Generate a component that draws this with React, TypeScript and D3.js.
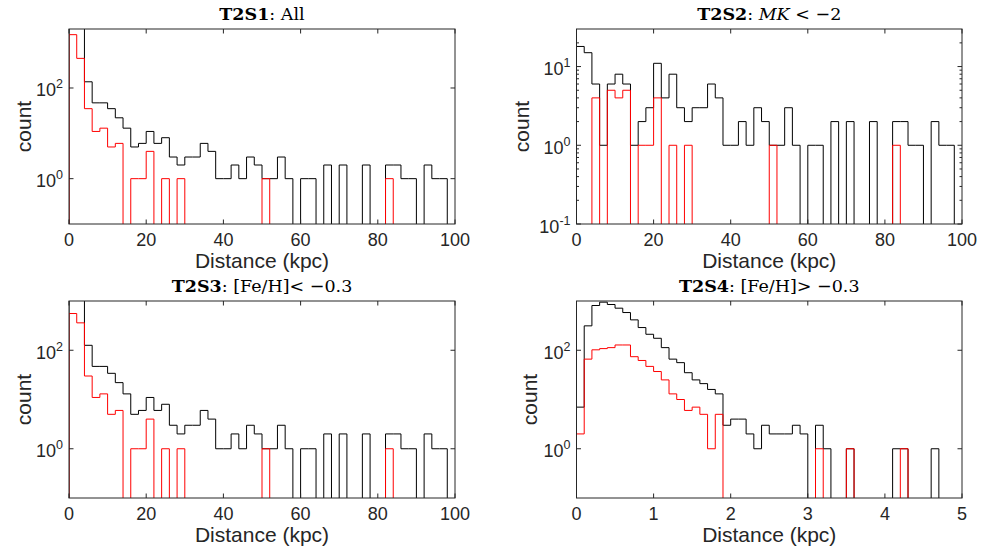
import React from "react";
import * as d3 from "d3";

// ---------- data ----------
// bin edges (kpc)
const edgesWide = d3.range(0, 101, 2); // 0..100 step 2 -> 50 bins
const edgesNarrow = d3.range(0, 51, 1).map((i) => i / 10); // 0..5 step 0.1 -> 50 bins

const xTicksWide = [0, 20, 40, 60, 80, 100];
const xTicksNarrow = [0, 1, 2, 3, 4, 5];

// T2S1: All
const t2s1Black = [3000, 2500, 137, 47, 47, 35, 22, 13, 5, 6, 11, 6, 8, 3, 2, 3, 3, 6, 4, 1, 1, 2, 1, 3, 2, 1, 1, 3, 1, 0, 1, 1, 0, 2, 0, 2, 0, 0, 2, 0, 0, 2, 2, 1, 1, 0, 2, 1, 1, 0];
const t2s1Red = [1500, 450, 35, 11, 13, 5, 6, 0, 1, 1, 4, 0, 1, 0, 1, 0, 0, 0, 0, 0, 0, 0, 0, 0, 0, 1, 0, 0, 0, 0, 0, 0, 0, 0, 0, 0, 0, 0, 0, 0, 0, 1, 0, 0, 0, 0, 0, 0, 0, 0];

// T2S2: MK < -2
const t2s2Black = [18, 15, 6, 1, 6, 8, 6, 1, 2, 3, 11, 4, 8, 3, 2, 3, 3, 6, 4, 1, 1, 2, 1, 3, 2, 1, 1, 3, 1, 0, 1, 1, 0, 2, 0, 2, 0, 0, 2, 0, 0, 2, 2, 1, 1, 0, 2, 1, 1, 0];
const t2s2Red = [0, 0, 4, 0, 5, 4, 5, 0, 1, 1, 4, 0, 1, 0, 1, 0, 0, 0, 0, 0, 0, 0, 0, 0, 0, 1, 0, 0, 0, 0, 0, 0, 0, 0, 0, 0, 0, 0, 0, 0, 0, 1, 0, 0, 0, 0, 0, 0, 0, 0];

// T2S3: [Fe/H] < -0.3
const t2s3Black = [3000, 2500, 126, 47, 47, 34, 22, 13, 5, 6, 11, 6, 8, 3, 2, 3, 3, 6, 4, 1, 1, 2, 1, 3, 2, 1, 1, 3, 1, 0, 1, 1, 0, 2, 0, 2, 0, 0, 2, 0, 0, 2, 2, 1, 1, 0, 2, 1, 1, 0];
const t2s3Red = [557, 360, 30, 11, 13, 5, 6, 0, 1, 1, 4, 0, 1, 0, 1, 0, 0, 0, 0, 0, 0, 0, 0, 0, 0, 1, 0, 0, 0, 0, 0, 0, 0, 0, 0, 0, 0, 0, 0, 0, 0, 1, 0, 0, 0, 0, 0, 0, 0, 0];

// T2S4: [Fe/H] > -0.3
const t2s4Black = [7, 313, 810, 947, 849, 715, 583, 414, 289, 211, 175, 113, 66, 56, 35, 25, 21, 16, 13, 3, 4, 4, 2, 1, 3, 2, 2, 2, 3, 2, 0, 3, 1, 0, 0, 1, 0, 0, 0, 0, 0, 1, 1, 0, 0, 0, 1, 0, 0, 0];
const t2s4Red = [2, 66, 102, 108, 113, 128, 128, 74, 62, 47, 37, 25, 13, 10, 6, 7, 5, 1, 5, 0, 0, 0, 0, 0, 0, 0, 0, 0, 0, 0, 0, 1, 0, 0, 0, 1, 0, 0, 0, 0, 0, 0, 1, 0, 0, 0, 0, 0, 0, 0];

// ---------- styles ----------
const AXIS = "#262626";
const SANS = "'Liberation Sans', Arial, Helvetica, sans-serif";
const SERIF = "'DejaVu Serif', serif";

type Part = { t: string; b?: boolean; i?: boolean };

type PanelProps = {
  id: string;
  x0: number;
  y0: number;
  w: number;
  h: number;
  xDomain: [number, number];
  xTicks: number[];
  yDomain: [number, number];
  yExps: number[];
  minor?: boolean;
  edges: number[];
  black: number[];
  red: number[];
  title: Part[];
  labelOffset: number;
};

function Panel(p: PanelProps) {
  const xs = d3.scaleLinear().domain(p.xDomain).range([0, p.w]);
  const ys = d3.scaleLog().domain(p.yDomain).range([p.h, 0]);
  const line = d3.line<[number, number]>();

  const stairs = (vals: number[]) => {
    const yv = (v: number) => (v > 0 ? ys(v) : p.h + 3);
    const pts: [number, number][] = [[xs(p.edges[0]), p.h + 3]];
    vals.forEach((v, i) => {
      pts.push([xs(p.edges[i]), yv(v)]);
      pts.push([xs(p.edges[i + 1]), yv(v)]);
    });
    pts.push([xs(p.edges[vals.length]), p.h + 3]);
    return line(pts) || "";
  };

  const majorT = 4.5;
  const minorT = 2.5;
  const minorVals: number[] = [];
  if (p.minor) {
    const [lo, hi] = p.yDomain;
    for (let e = Math.floor(Math.log10(lo)); e <= Math.ceil(Math.log10(hi)); e++) {
      for (let m = 2; m <= 9; m++) {
        const v = m * Math.pow(10, e);
        if (v > lo && v < hi) minorVals.push(v);
      }
    }
  }

  return (
    <g transform={`translate(${p.x0},${p.y0})`}>
      <defs>
        <clipPath id={`clip-${p.id}`}>
          <rect x={0} y={0} width={p.w} height={p.h} />
        </clipPath>
      </defs>
      <g clipPath={`url(#clip-${p.id})`}>
        <path d={stairs(p.black)} fill="none" stroke="#000" strokeWidth={1} />
        <path d={stairs(p.red)} fill="none" stroke="#ff0000" strokeWidth={1} />
      </g>
      <rect x={0} y={0} width={p.w} height={p.h} fill="none" stroke={AXIS} strokeWidth={1} />
      {p.xTicks.map((t) => (
        <g key={`x${t}`}>
          <line x1={xs(t)} x2={xs(t)} y1={p.h} y2={p.h - majorT} stroke={AXIS} />
          <line x1={xs(t)} x2={xs(t)} y1={0} y2={majorT} stroke={AXIS} />
          <text x={xs(t)} y={p.h + 22} textAnchor="middle" fontFamily={SANS} fontSize={18} fill={AXIS}>
            {t}
          </text>
        </g>
      ))}
      {p.yExps.map((e) => {
        const y = ys(Math.pow(10, e));
        return (
          <g key={`y${e}`}>
            <line x1={0} x2={majorT} y1={y} y2={y} stroke={AXIS} />
            <line x1={p.w} x2={p.w - majorT} y1={y} y2={y} stroke={AXIS} />
            <text x={-6} y={y + 8.5} textAnchor="end" fontFamily={SANS} fontSize={18} fill={AXIS}>
              10
              <tspan dy={-8} fontSize={12.5}>
                {e < 0 ? `-${-e}` : `${e}`}
              </tspan>
            </text>
          </g>
        );
      })}
      {minorVals.map((v) => (
        <g key={`m${v}`}>
          <line x1={0} x2={minorT} y1={ys(v)} y2={ys(v)} stroke={AXIS} />
          <line x1={p.w} x2={p.w - minorT} y1={ys(v)} y2={ys(v)} stroke={AXIS} />
        </g>
      ))}
      <text
        transform={`translate(${-p.labelOffset},${p.h / 2}) rotate(-90)`}
        textAnchor="middle"
        fontFamily={SANS}
        fontSize={21}
        fill={AXIS}
      >
        count
      </text>
      <text x={p.w / 2} y={p.h + 43.5} textAnchor="middle" fontFamily={SANS} fontSize={21} fill={AXIS}>
        Distance (kpc)
      </text>
      <text x={p.w / 2} y={-9} textAnchor="middle" fontFamily={SERIF} fontSize={17.5} fill="#000">
        {p.title.map((part, k) => (
          <tspan key={k} fontWeight={part.b ? "bold" : "normal"} fontStyle={part.i ? "italic" : "normal"}>
            {part.t}
          </tspan>
        ))}
      </text>
    </g>
  );
}

export default function App() {
  return (
    <svg width={995} height={552} style={{ position: "absolute", left: 0, top: 0, background: "#fff" }}>
      <rect x={0} y={0} width={995} height={552} fill="#fff" />
      <Panel
        id="p1"
        x0={69}
        y0={29}
        w={386}
        h={195}
        xDomain={[0, 100]}
        xTicks={xTicksWide}
        yDomain={[0.1, 2000]}
        yExps={[0, 2]}
        edges={edgesWide}
        black={t2s1Black}
        red={t2s1Red}
        title={[{ t: "T2S1", b: true }, { t: ": All" }]}
        labelOffset={38}
      />
      <Panel
        id="p2"
        x0={576.5}
        y0={29}
        w={385.5}
        h={195}
        xDomain={[0, 100]}
        xTicks={xTicksWide}
        yDomain={[0.1, 30]}
        yExps={[-1, 0, 1]}
        minor
        edges={edgesWide}
        black={t2s2Black}
        red={t2s2Red}
        title={[{ t: "T2S2", b: true }, { t: ": " }, { t: "MK", i: true }, { t: " < −2" }]}
        labelOffset={48}
      />
      <Panel
        id="p3"
        x0={69}
        y0={301}
        w={386}
        h={197}
        xDomain={[0, 100]}
        xTicks={xTicksWide}
        yDomain={[0.1, 1000]}
        yExps={[0, 2]}
        edges={edgesWide}
        black={t2s3Black}
        red={t2s3Red}
        title={[{ t: "T2S3", b: true }, { t: ": [Fe/H]< −0.3" }]}
        labelOffset={38}
      />
      <Panel
        id="p4"
        x0={576.5}
        y0={301}
        w={385.5}
        h={197}
        xDomain={[0, 5]}
        xTicks={xTicksNarrow}
        yDomain={[0.1, 1000]}
        yExps={[0, 2]}
        edges={edgesNarrow}
        black={t2s4Black}
        red={t2s4Red}
        title={[{ t: "T2S4", b: true }, { t: ": [Fe/H]> −0.3" }]}
        labelOffset={40}
      />
    </svg>
  );
}
